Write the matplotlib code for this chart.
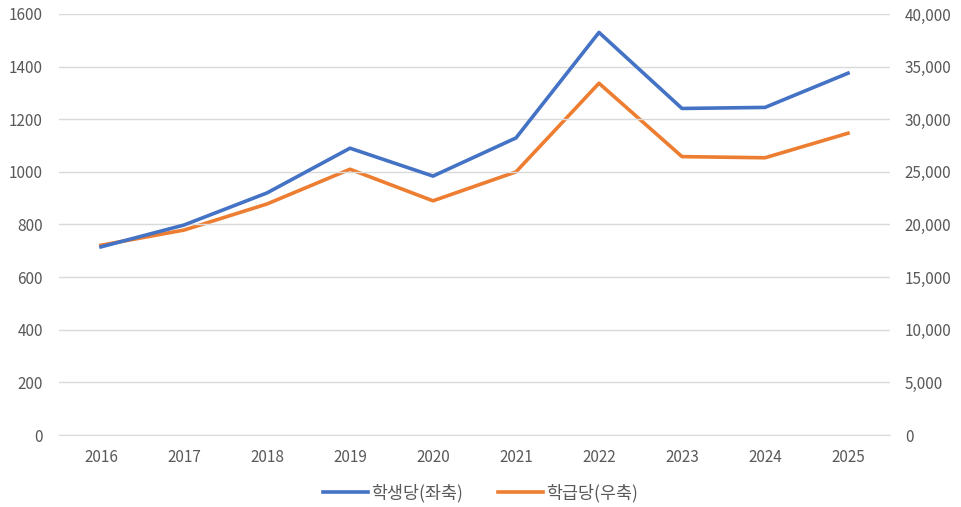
import matplotlib
matplotlib.use('Agg')
import matplotlib.pyplot as plt
from matplotlib.ticker import FuncFormatter

plt.rcParams['font.family'] = ['Noto Sans CJK KR', 'DejaVu Sans']

years = ['2016', '2017', '2018', '2019', '2020', '2021', '2022', '2023', '2024', '2025']
per_student = [715, 798, 920, 1090, 984, 1129, 1530, 1241, 1245, 1375]
per_class = [18030, 19470, 21950, 25250, 22250, 25000, 33420, 26450, 26340, 28670]

blue = '#4472C4'
orange = '#ED7D31'
grid_c = '#D9D9D9'
txt_c = '#595959'

fig = plt.figure(figsize=(9.61, 5.07), dpi=100)
ax = fig.add_axes([0.0619, 0.142, 0.8637, 0.8304])
ax2 = ax.twinx()

x = range(len(years))
l1, = ax.plot(x, per_student, color=blue, lw=2.6, label='학생당(좌축)', solid_joinstyle='round')
l2, = ax2.plot(x, per_class, color=orange, lw=2.6, label='학급당(우축)', solid_joinstyle='round')
ax.set_zorder(ax2.get_zorder() + 1)
ax.patch.set_visible(False)

ax.set_xlim(-0.5, len(years) - 0.5)
ax.set_ylim(0, 1600)
ax.set_yticks(range(0, 1601, 200))
ax2.set_ylim(0, 40000)
ax2.set_yticks(range(0, 40001, 5000))
ax2.yaxis.set_major_formatter(FuncFormatter(lambda v, p: f'{int(v):,}'))
ax.set_xticks(list(x))
ax.set_xticklabels(years)

ax.grid(axis='y', color=grid_c, lw=1)
ax.set_axisbelow(True)
for a in (ax, ax2):
    for s in a.spines.values():
        s.set_visible(False)
    a.tick_params(length=0, labelsize=11, labelcolor=txt_c)
ax.spines['bottom'].set_visible(True)
ax.spines['bottom'].set_color(grid_c)
ax.tick_params(axis='y', pad=12)
ax2.tick_params(axis='y', pad=11)
ax.tick_params(axis='x', pad=10)

fig.legend(handles=[l1, l2], loc='center', bbox_to_anchor=(0.5, 0.027), ncol=2,
           frameon=False, fontsize=12.5, labelcolor=txt_c, handlelength=2.6,
           columnspacing=2.0, handletextpad=0.2)

fig.savefig('out.png', dpi=100)
